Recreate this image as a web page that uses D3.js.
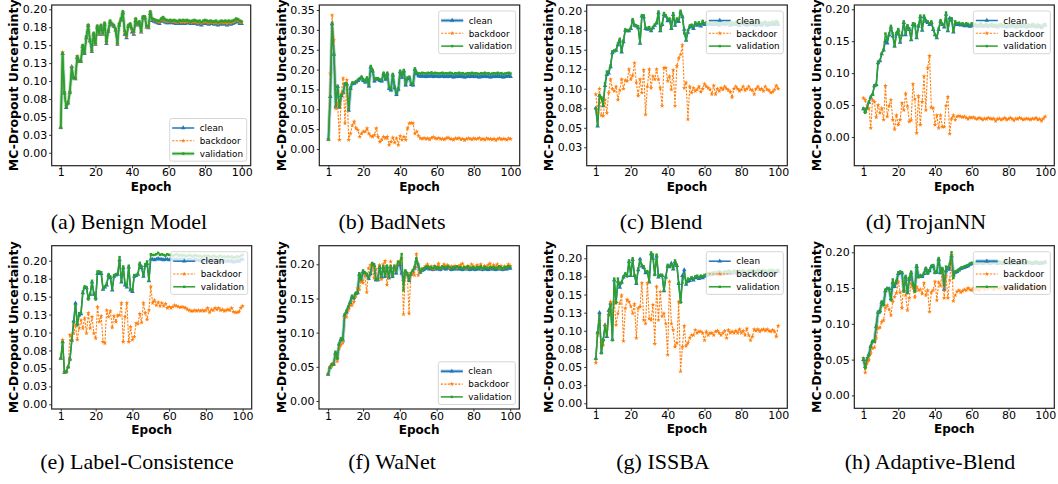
<!DOCTYPE html>
<html><head><meta charset="utf-8">
<script src="https://cdn.jsdelivr.net/npm/d3@7"></script>
<style>body{margin:0;background:#fff} svg{display:block}</style>
</head><body>
<script>
// ---------- categories / labels ----------
const epochs = d3.range(1, 101);
const seriesNames = ["clean", "backdoor", "validation"];
const xTickValues = [1, 20, 40, 60, 80, 100];
const yTicks025 = [0, 0.025, 0.05, 0.075, 0.1, 0.125, 0.15, 0.175, 0.2];
const yLabels025 = ["0.00","0.03","0.05","0.08","0.10","0.13","0.15","0.18","0.20"];
const yTicks05 = [0, 0.05, 0.1, 0.15, 0.2];
const yLabels05 = ["0.00","0.05","0.10","0.15","0.20"];
const yTicksB = [0, 0.05, 0.1, 0.15, 0.2, 0.25, 0.3, 0.35];
const yLabelsB = ["0.00","0.05","0.10","0.15","0.20","0.25","0.30","0.35"];
const yTicksC = [0.025, 0.05, 0.075, 0.1, 0.125, 0.15, 0.175, 0.2];
const yLabelsC = ["0.03","0.05","0.08","0.10","0.12","0.15","0.18","0.20"];
const captions = ["(a) Benign Model","(b) BadNets","(c) Blend","(d) TrojanNN","(e) Label-Consistence","(f) WaNet","(g) ISSBA","(h) Adaptive-Blend"];

// ---------- (a) Benign Model ----------
const aClean = [0.035,0.138,0.083,0.063,0.069,0.084,0.120,0.104,0.103,0.133,0.127,0.127,0.148,0.138,0.160,0.177,0.156,0.141,0.165,0.151,0.175,0.165,0.176,0.165,0.179,0.152,0.169,0.182,0.178,0.176,0.171,0.151,0.178,0.185,0.195,0.165,0.160,0.176,0.178,0.168,0.165,0.184,0.178,0.180,0.168,0.188,0.188,0.175,0.174,0.194,0.184,0.183,0.182,0.181,0.180,0.183,0.185,0.182,0.181,0.181,0.182,0.181,0.181,0.180,0.180,0.181,0.180,0.181,0.180,0.181,0.181,0.180,0.180,0.181,0.180,0.179,0.180,0.178,0.180,0.181,0.180,0.179,0.180,0.180,0.179,0.180,0.178,0.179,0.180,0.179,0.180,0.178,0.180,0.179,0.180,0.181,0.183,0.182,0.180,0.180];
const aBackdoor = [0.035,0.140,0.084,0.065,0.071,0.085,0.119,0.106,0.104,0.135,0.128,0.128,0.149,0.139,0.161,0.178,0.157,0.142,0.166,0.152,0.176,0.166,0.177,0.166,0.180,0.154,0.170,0.183,0.179,0.177,0.172,0.152,0.179,0.186,0.196,0.168,0.162,0.177,0.179,0.171,0.167,0.186,0.179,0.182,0.169,0.189,0.189,0.176,0.175,0.196,0.186,0.185,0.184,0.183,0.182,0.185,0.187,0.184,0.183,0.183,0.184,0.183,0.183,0.182,0.182,0.183,0.182,0.183,0.182,0.183,0.183,0.182,0.182,0.183,0.182,0.181,0.182,0.180,0.182,0.183,0.182,0.181,0.182,0.182,0.181,0.182,0.180,0.181,0.182,0.181,0.182,0.180,0.182,0.181,0.182,0.183,0.185,0.184,0.182,0.182];
const aValidation = [0.035,0.139,0.084,0.064,0.070,0.085,0.118,0.105,0.104,0.134,0.128,0.128,0.150,0.139,0.162,0.178,0.158,0.143,0.167,0.153,0.177,0.167,0.178,0.167,0.181,0.155,0.171,0.184,0.180,0.178,0.173,0.153,0.180,0.187,0.197,0.170,0.164,0.178,0.180,0.173,0.169,0.187,0.180,0.183,0.170,0.190,0.190,0.177,0.176,0.197,0.187,0.186,0.185,0.184,0.184,0.187,0.189,0.186,0.185,0.184,0.185,0.184,0.185,0.184,0.183,0.185,0.184,0.185,0.184,0.185,0.184,0.183,0.184,0.185,0.184,0.183,0.184,0.182,0.184,0.185,0.184,0.183,0.184,0.183,0.183,0.184,0.182,0.183,0.184,0.183,0.184,0.183,0.184,0.183,0.184,0.185,0.187,0.186,0.184,0.183];

// ---------- (b) BadNets ----------
const bClean = [0.024,0.132,0.315,0.238,0.106,0.157,0.105,0.134,0.142,0.163,0.163,0.097,0.152,0.165,0.165,0.168,0.172,0.176,0.180,0.172,0.168,0.178,0.158,0.206,0.196,0.171,0.176,0.176,0.172,0.171,0.189,0.175,0.189,0.152,0.148,0.186,0.154,0.137,0.150,0.194,0.180,0.196,0.161,0.177,0.179,0.162,0.161,0.200,0.189,0.184,0.183,0.184,0.183,0.182,0.184,0.183,0.185,0.182,0.184,0.183,0.182,0.183,0.184,0.182,0.183,0.182,0.184,0.183,0.181,0.183,0.182,0.184,0.182,0.183,0.181,0.182,0.183,0.182,0.184,0.182,0.183,0.182,0.181,0.183,0.182,0.184,0.182,0.183,0.181,0.182,0.183,0.182,0.184,0.182,0.183,0.181,0.182,0.183,0.184,0.182];
const bBackdoor = [0.024,0.190,0.337,0.274,0.102,0.115,0.023,0.140,0.178,0.065,0.174,0.023,0.039,0.060,0.069,0.052,0.048,0.031,0.039,0.044,0.044,0.052,0.039,0.033,0.031,0.035,0.052,0.031,0.018,0.024,0.031,0.027,0.031,0.010,0.018,0.029,0.016,0.027,0.010,0.033,0.023,0.031,0.023,0.052,0.065,0.066,0.065,0.039,0.044,0.033,0.027,0.026,0.028,0.025,0.027,0.024,0.028,0.030,0.027,0.026,0.028,0.025,0.026,0.024,0.027,0.029,0.026,0.025,0.023,0.027,0.026,0.028,0.024,0.026,0.022,0.025,0.027,0.026,0.024,0.027,0.025,0.026,0.028,0.024,0.026,0.023,0.027,0.025,0.026,0.024,0.026,0.022,0.025,0.027,0.024,0.026,0.025,0.023,0.027,0.025];
const bValidation = [0.024,0.133,0.318,0.241,0.108,0.159,0.107,0.136,0.144,0.165,0.165,0.100,0.155,0.167,0.167,0.170,0.174,0.178,0.182,0.175,0.170,0.180,0.161,0.209,0.199,0.174,0.178,0.178,0.175,0.174,0.192,0.178,0.192,0.155,0.153,0.189,0.157,0.140,0.153,0.197,0.184,0.199,0.164,0.180,0.182,0.165,0.164,0.203,0.192,0.191,0.190,0.192,0.191,0.190,0.192,0.191,0.193,0.190,0.192,0.191,0.190,0.191,0.192,0.190,0.191,0.190,0.192,0.191,0.189,0.191,0.190,0.192,0.190,0.191,0.189,0.190,0.191,0.190,0.192,0.190,0.191,0.190,0.189,0.191,0.190,0.192,0.190,0.191,0.189,0.190,0.191,0.190,0.192,0.190,0.191,0.189,0.190,0.191,0.192,0.190];

// ---------- (c) Blend ----------
const cClean = [0.075,0.052,0.091,0.088,0.078,0.104,0.118,0.120,0.128,0.146,0.148,0.149,0.156,0.162,0.147,0.160,0.175,0.174,0.174,0.177,0.188,0.181,0.180,0.178,0.158,0.193,0.192,0.177,0.176,0.177,0.174,0.178,0.181,0.184,0.197,0.174,0.182,0.195,0.193,0.187,0.188,0.177,0.195,0.181,0.188,0.186,0.198,0.192,0.176,0.162,0.172,0.179,0.180,0.177,0.183,0.181,0.183,0.180,0.184,0.182,0.183,0.182,0.183,0.182,0.182,0.183,0.182,0.181,0.183,0.183,0.182,0.183,0.183,0.181,0.182,0.182,0.183,0.182,0.181,0.183,0.183,0.182,0.181,0.182,0.183,0.182,0.182,0.181,0.183,0.182,0.181,0.183,0.183,0.181,0.182,0.182,0.183,0.182,0.184,0.182];
const cBackdoor = [0.093,0.069,0.100,0.066,0.065,0.086,0.069,0.095,0.112,0.100,0.097,0.103,0.086,0.098,0.112,0.100,0.111,0.110,0.125,0.112,0.117,0.133,0.108,0.091,0.112,0.095,0.124,0.067,0.103,0.125,0.101,0.116,0.112,0.125,0.112,0.101,0.078,0.127,0.127,0.110,0.116,0.099,0.124,0.078,0.129,0.139,0.144,0.156,0.101,0.108,0.061,0.103,0.095,0.101,0.097,0.099,0.103,0.096,0.100,0.106,0.103,0.101,0.099,0.093,0.104,0.093,0.100,0.097,0.101,0.099,0.103,0.100,0.098,0.096,0.089,0.100,0.103,0.100,0.097,0.099,0.103,0.098,0.100,0.103,0.099,0.098,0.093,0.100,0.103,0.099,0.100,0.097,0.103,0.099,0.098,0.095,0.096,0.099,0.104,0.100];
const cValidation = [0.075,0.053,0.092,0.089,0.079,0.107,0.122,0.122,0.130,0.148,0.149,0.150,0.158,0.164,0.148,0.162,0.176,0.175,0.175,0.178,0.189,0.182,0.181,0.180,0.159,0.194,0.194,0.178,0.178,0.179,0.175,0.179,0.182,0.185,0.199,0.175,0.183,0.197,0.194,0.189,0.190,0.178,0.197,0.183,0.190,0.188,0.200,0.193,0.171,0.163,0.175,0.181,0.182,0.179,0.185,0.183,0.185,0.182,0.187,0.184,0.185,0.184,0.186,0.185,0.184,0.186,0.185,0.184,0.185,0.186,0.184,0.185,0.186,0.184,0.185,0.184,0.186,0.185,0.184,0.185,0.186,0.185,0.184,0.185,0.186,0.184,0.185,0.184,0.186,0.185,0.184,0.185,0.186,0.184,0.185,0.184,0.186,0.185,0.187,0.185];

// ---------- (d) TrojanNN ----------
const dClean = [0.044,0.040,0.046,0.054,0.062,0.067,0.080,0.082,0.116,0.119,0.130,0.136,0.150,0.147,0.160,0.172,0.158,0.142,0.161,0.167,0.148,0.160,0.179,0.160,0.173,0.168,0.152,0.176,0.175,0.155,0.173,0.188,0.167,0.188,0.181,0.179,0.176,0.179,0.168,0.160,0.155,0.168,0.181,0.176,0.172,0.192,0.166,0.186,0.184,0.164,0.178,0.176,0.176,0.175,0.176,0.174,0.176,0.174,0.173,0.175,0.174,0.175,0.173,0.174,0.175,0.173,0.174,0.174,0.173,0.174,0.174,0.173,0.174,0.172,0.174,0.174,0.173,0.174,0.172,0.174,0.173,0.174,0.174,0.172,0.174,0.173,0.174,0.173,0.174,0.172,0.174,0.173,0.174,0.174,0.172,0.174,0.173,0.171,0.174,0.175];
const dBackdoor = [0.061,0.058,0.045,0.045,0.014,0.058,0.055,0.031,0.050,0.038,0.045,0.027,0.080,0.032,0.049,0.058,0.027,0.012,0.034,0.019,0.027,0.053,0.042,0.068,0.048,0.024,0.026,0.083,0.059,0.006,0.064,0.019,0.055,0.095,0.042,0.108,0.127,0.046,0.045,0.019,0.034,0.014,0.034,0.016,0.016,0.049,0.063,0.005,0.029,0.034,0.027,0.032,0.033,0.032,0.031,0.032,0.030,0.028,0.031,0.030,0.031,0.029,0.028,0.030,0.029,0.027,0.029,0.028,0.030,0.029,0.028,0.029,0.025,0.028,0.029,0.027,0.028,0.030,0.027,0.028,0.030,0.028,0.026,0.029,0.028,0.030,0.029,0.027,0.028,0.029,0.028,0.027,0.029,0.028,0.030,0.027,0.028,0.025,0.029,0.032];
const dValidation = [0.045,0.038,0.045,0.055,0.063,0.066,0.081,0.081,0.118,0.120,0.131,0.137,0.162,0.152,0.162,0.174,0.162,0.142,0.163,0.169,0.149,0.162,0.181,0.162,0.175,0.170,0.153,0.178,0.177,0.156,0.175,0.190,0.168,0.190,0.183,0.181,0.178,0.181,0.170,0.161,0.156,0.170,0.183,0.177,0.174,0.195,0.167,0.182,0.186,0.165,0.181,0.178,0.179,0.177,0.178,0.176,0.178,0.177,0.175,0.178,0.176,0.177,0.175,0.176,0.178,0.175,0.176,0.177,0.175,0.176,0.177,0.175,0.176,0.174,0.176,0.177,0.175,0.176,0.174,0.176,0.175,0.177,0.176,0.174,0.176,0.175,0.177,0.175,0.176,0.174,0.176,0.175,0.177,0.176,0.174,0.176,0.175,0.173,0.176,0.177];

// ---------- (e) Label-Consistence ----------
const eClean = [0.064,0.087,0.044,0.046,0.052,0.063,0.089,0.116,0.141,0.112,0.124,0.126,0.155,0.163,0.162,0.148,0.153,0.170,0.153,0.148,0.182,0.182,0.182,0.160,0.163,0.166,0.180,0.176,0.159,0.178,0.180,0.181,0.201,0.170,0.190,0.166,0.163,0.191,0.159,0.157,0.178,0.179,0.181,0.195,0.190,0.178,0.193,0.196,0.172,0.202,0.202,0.201,0.202,0.203,0.202,0.202,0.201,0.202,0.202,0.201,0.202,0.201,0.202,0.202,0.201,0.202,0.201,0.202,0.200,0.201,0.202,0.201,0.200,0.202,0.201,0.200,0.201,0.199,0.201,0.200,0.201,0.200,0.199,0.201,0.200,0.199,0.200,0.201,0.199,0.200,0.199,0.200,0.199,0.200,0.198,0.199,0.200,0.199,0.201,0.202];
const eBackdoor = [0.064,0.090,0.045,0.045,0.052,0.097,0.090,0.099,0.110,0.090,0.106,0.117,0.106,0.120,0.099,0.127,0.106,0.122,0.099,0.092,0.136,0.115,0.123,0.087,0.085,0.131,0.122,0.130,0.107,0.123,0.115,0.124,0.124,0.141,0.087,0.122,0.141,0.087,0.108,0.090,0.094,0.113,0.112,0.126,0.114,0.141,0.127,0.118,0.131,0.164,0.141,0.145,0.138,0.142,0.137,0.141,0.137,0.140,0.134,0.136,0.134,0.136,0.138,0.137,0.136,0.135,0.136,0.135,0.134,0.132,0.131,0.130,0.130,0.131,0.130,0.131,0.130,0.131,0.130,0.131,0.134,0.128,0.132,0.131,0.134,0.132,0.134,0.131,0.132,0.130,0.131,0.132,0.131,0.134,0.129,0.128,0.128,0.129,0.134,0.137];
const eValidation = [0.064,0.087,0.045,0.045,0.052,0.063,0.090,0.114,0.138,0.110,0.127,0.127,0.157,0.164,0.163,0.146,0.154,0.172,0.155,0.146,0.185,0.185,0.184,0.161,0.164,0.168,0.181,0.178,0.160,0.180,0.181,0.182,0.205,0.171,0.192,0.168,0.165,0.193,0.160,0.159,0.180,0.180,0.182,0.197,0.192,0.179,0.195,0.199,0.173,0.209,0.208,0.208,0.209,0.211,0.208,0.209,0.208,0.207,0.209,0.208,0.208,0.207,0.208,0.209,0.207,0.208,0.207,0.208,0.206,0.207,0.208,0.207,0.206,0.208,0.207,0.206,0.207,0.205,0.207,0.206,0.207,0.206,0.205,0.207,0.206,0.205,0.206,0.207,0.205,0.206,0.205,0.206,0.205,0.206,0.204,0.205,0.206,0.205,0.207,0.208];

// ---------- (f) WaNet ----------
const fClean = [0.039,0.049,0.053,0.054,0.070,0.063,0.083,0.090,0.089,0.125,0.130,0.137,0.144,0.152,0.151,0.157,0.158,0.185,0.176,0.189,0.187,0.184,0.179,0.186,0.200,0.198,0.177,0.177,0.195,0.181,0.195,0.182,0.196,0.180,0.195,0.182,0.196,0.187,0.200,0.199,0.187,0.178,0.189,0.185,0.176,0.185,0.189,0.194,0.205,0.197,0.188,0.191,0.192,0.194,0.195,0.193,0.194,0.192,0.195,0.193,0.194,0.192,0.195,0.194,0.193,0.195,0.194,0.192,0.194,0.193,0.195,0.193,0.194,0.192,0.194,0.193,0.195,0.192,0.193,0.194,0.192,0.194,0.193,0.195,0.192,0.194,0.193,0.192,0.194,0.193,0.194,0.192,0.193,0.195,0.193,0.192,0.194,0.193,0.195,0.194];
const fBackdoor = [0.039,0.050,0.051,0.056,0.067,0.058,0.077,0.082,0.085,0.123,0.123,0.133,0.140,0.140,0.145,0.153,0.165,0.163,0.175,0.173,0.184,0.159,0.194,0.199,0.196,0.180,0.193,0.178,0.199,0.178,0.200,0.205,0.170,0.184,0.204,0.184,0.192,0.198,0.201,0.204,0.209,0.127,0.187,0.187,0.128,0.187,0.187,0.184,0.215,0.184,0.191,0.193,0.194,0.197,0.200,0.195,0.197,0.193,0.198,0.195,0.201,0.194,0.196,0.200,0.197,0.199,0.195,0.197,0.196,0.198,0.195,0.197,0.199,0.201,0.196,0.194,0.198,0.196,0.200,0.197,0.195,0.199,0.196,0.200,0.194,0.198,0.196,0.199,0.201,0.195,0.199,0.196,0.200,0.195,0.198,0.194,0.197,0.196,0.200,0.198];
const fValidation = [0.039,0.049,0.054,0.053,0.072,0.062,0.084,0.092,0.090,0.127,0.132,0.138,0.145,0.154,0.150,0.158,0.159,0.187,0.178,0.191,0.188,0.186,0.180,0.187,0.202,0.200,0.178,0.178,0.197,0.183,0.197,0.184,0.198,0.182,0.197,0.183,0.198,0.189,0.204,0.202,0.215,0.162,0.191,0.187,0.177,0.187,0.191,0.196,0.209,0.200,0.189,0.193,0.194,0.196,0.197,0.195,0.196,0.194,0.197,0.195,0.196,0.194,0.197,0.196,0.195,0.197,0.196,0.194,0.196,0.195,0.197,0.195,0.196,0.194,0.196,0.195,0.197,0.194,0.195,0.196,0.194,0.196,0.195,0.197,0.194,0.196,0.195,0.194,0.196,0.195,0.196,0.194,0.195,0.197,0.195,0.194,0.196,0.195,0.197,0.196];

// ---------- (g) ISSBA ----------
const gClean = [0.062,0.098,0.125,0.070,0.088,0.108,0.092,0.128,0.138,0.088,0.170,0.140,0.168,0.160,0.167,0.174,0.178,0.176,0.195,0.176,0.198,0.176,0.165,0.184,0.199,0.189,0.187,0.180,0.181,0.167,0.206,0.200,0.178,0.203,0.174,0.176,0.176,0.155,0.174,0.189,0.188,0.193,0.185,0.195,0.190,0.165,0.140,0.176,0.184,0.164,0.168,0.169,0.172,0.170,0.173,0.174,0.172,0.174,0.173,0.175,0.176,0.177,0.178,0.177,0.179,0.178,0.179,0.180,0.179,0.178,0.180,0.179,0.181,0.180,0.179,0.181,0.180,0.179,0.181,0.180,0.181,0.180,0.179,0.181,0.180,0.182,0.181,0.180,0.182,0.181,0.180,0.182,0.181,0.180,0.182,0.181,0.182,0.180,0.181,0.182];
const gBackdoor = [0.056,0.094,0.113,0.083,0.080,0.107,0.101,0.122,0.140,0.122,0.140,0.108,0.124,0.138,0.149,0.086,0.131,0.143,0.140,0.134,0.124,0.137,0.090,0.131,0.133,0.166,0.115,0.110,0.166,0.117,0.115,0.136,0.082,0.161,0.115,0.154,0.120,0.124,0.110,0.067,0.168,0.110,0.101,0.078,0.083,0.140,0.044,0.078,0.107,0.079,0.083,0.090,0.094,0.094,0.101,0.097,0.099,0.099,0.097,0.087,0.099,0.094,0.097,0.097,0.094,0.099,0.100,0.097,0.094,0.097,0.100,0.090,0.101,0.097,0.099,0.097,0.100,0.097,0.102,0.097,0.100,0.094,0.103,0.094,0.087,0.092,0.102,0.100,0.102,0.099,0.101,0.102,0.100,0.102,0.100,0.099,0.101,0.099,0.092,0.107];
const gValidation = [0.061,0.097,0.122,0.069,0.086,0.106,0.093,0.122,0.136,0.087,0.172,0.138,0.172,0.163,0.166,0.175,0.179,0.175,0.197,0.177,0.200,0.177,0.166,0.186,0.197,0.191,0.189,0.182,0.182,0.168,0.208,0.205,0.177,0.205,0.175,0.177,0.177,0.156,0.175,0.191,0.189,0.191,0.186,0.197,0.191,0.166,0.139,0.166,0.179,0.166,0.172,0.171,0.174,0.172,0.175,0.176,0.174,0.176,0.175,0.177,0.178,0.179,0.180,0.179,0.181,0.180,0.181,0.182,0.181,0.180,0.182,0.181,0.183,0.182,0.181,0.183,0.182,0.181,0.183,0.182,0.183,0.182,0.181,0.183,0.182,0.184,0.183,0.182,0.184,0.183,0.182,0.184,0.183,0.182,0.184,0.183,0.184,0.182,0.183,0.184];

// ---------- (h) Adaptive-Blend ----------
const hClean = [0.050,0.040,0.050,0.057,0.068,0.075,0.076,0.096,0.116,0.118,0.130,0.127,0.146,0.149,0.149,0.135,0.158,0.152,0.158,0.170,0.172,0.171,0.147,0.165,0.144,0.162,0.171,0.155,0.147,0.180,0.166,0.167,0.166,0.170,0.177,0.171,0.174,0.180,0.181,0.172,0.172,0.190,0.171,0.176,0.148,0.174,0.178,0.176,0.195,0.168,0.172,0.173,0.175,0.177,0.178,0.179,0.180,0.181,0.183,0.184,0.184,0.185,0.184,0.186,0.185,0.184,0.185,0.186,0.185,0.184,0.185,0.186,0.185,0.184,0.186,0.185,0.184,0.185,0.186,0.185,0.184,0.185,0.186,0.185,0.184,0.185,0.186,0.185,0.184,0.185,0.186,0.185,0.184,0.185,0.186,0.185,0.184,0.185,0.185,0.186];
const hBackdoor = [0.052,0.032,0.045,0.049,0.059,0.066,0.067,0.080,0.094,0.095,0.103,0.105,0.122,0.126,0.120,0.112,0.131,0.138,0.143,0.159,0.144,0.122,0.157,0.140,0.119,0.136,0.157,0.150,0.137,0.152,0.147,0.148,0.142,0.157,0.140,0.147,0.117,0.144,0.147,0.159,0.133,0.158,0.153,0.173,0.136,0.167,0.136,0.161,0.196,0.132,0.140,0.145,0.147,0.144,0.146,0.148,0.147,0.150,0.148,0.147,0.150,0.148,0.149,0.147,0.150,0.151,0.148,0.150,0.149,0.152,0.150,0.148,0.151,0.150,0.149,0.151,0.150,0.148,0.151,0.150,0.149,0.151,0.150,0.152,0.149,0.150,0.151,0.149,0.150,0.152,0.150,0.149,0.151,0.150,0.152,0.150,0.149,0.151,0.150,0.151];
const hValidation = [0.052,0.038,0.052,0.056,0.069,0.076,0.075,0.098,0.117,0.116,0.131,0.126,0.148,0.150,0.148,0.133,0.162,0.154,0.160,0.172,0.173,0.172,0.145,0.167,0.143,0.164,0.173,0.154,0.145,0.182,0.165,0.166,0.167,0.171,0.178,0.170,0.175,0.181,0.182,0.171,0.173,0.192,0.172,0.178,0.154,0.180,0.178,0.184,0.200,0.164,0.173,0.174,0.176,0.178,0.179,0.180,0.181,0.182,0.184,0.185,0.185,0.186,0.185,0.187,0.186,0.185,0.186,0.187,0.186,0.185,0.186,0.187,0.186,0.185,0.187,0.186,0.185,0.186,0.187,0.186,0.185,0.186,0.187,0.186,0.185,0.186,0.187,0.186,0.185,0.186,0.187,0.186,0.185,0.186,0.187,0.186,0.185,0.186,0.186,0.187];

// ---------- panel configuration (built from the arrays above) ----------
const panels = [
  {cap:captions[0], s:[aClean,aBackdoor,aValidation], yDom:[-0.018,0.206], yt:yTicks025, yl:yLabels025, leg:"lr", wide:2, f:{L:51.7,R:250.7,T:5,B:165.7}, capX:129, capY:229},
  {cap:captions[1], s:[bClean,bBackdoor,bValidation], yDom:[-0.042,0.3626], yt:yTicksB, yl:yLabelsB, leg:"ur", wide:0, f:{L:319.3,R:519.7,T:5,B:165.7}, capX:392, capY:229},
  {cap:captions[2], s:[cClean,cBackdoor,cValidation], yDom:[0.0014,0.2073], yt:yTicksC, yl:yLabelsC, leg:"ur", wide:-1, f:{L:586.7,R:787.3,T:5,B:165.7}, capX:661, capY:229},
  {cap:captions[3], s:[dClean,dBackdoor,dValidation], yDom:[-0.045,0.2067], yt:yTicks05, yl:yLabels05, leg:"ur", wide:-1, f:{L:854.3,R:1054.3,T:5,B:165.7}, capX:926, capY:229},
  {cap:captions[4], s:[eClean,eBackdoor,eValidation], yDom:[-0.0065,0.2209], yt:yTicks025, yl:yLabels025, leg:"ur", wide:-1, f:{L:51.7,R:251.7,T:245.7,B:409}, capX:137, capY:469},
  {cap:captions[5], s:[fClean,fBackdoor,fValidation], yDom:[-0.0117,0.2272], yt:yTicks05, yl:yLabels05, leg:"lr", wide:0, f:{L:319,R:519.3,T:245.7,B:409}, capX:392, capY:469},
  {cap:captions[6], s:[gClean,gBackdoor,gValidation], yDom:[-0.0069,0.2174], yt:yTicks025, yl:yLabels025, leg:"ur", wide:-1, f:{L:586.7,R:787.3,T:245.7,B:408.3}, capX:663, capY:469},
  {cap:captions[7], s:[hClean,hBackdoor,hValidation], yDom:[-0.018,0.2092], yt:yTicks05, yl:yLabels05, leg:"ur", wide:0, f:{L:854.3,R:1054.3,T:245.7,B:408.3}, capX:930, capY:469}
];

const colors = ["#1f77b4", "#ff7f0e", "#2ca02c"];
const dashes = [null, "2.2,1.3", null];
const symbols = [d3.symbolTriangle, d3.symbolStar, d3.symbolSquare];
const symSizes = [9, 7, 6];
const FONT = "'DejaVu Sans', sans-serif";

const svg = d3.select("body").append("svg").attr("width", 1058).attr("height", 484);

panels.forEach(p => {
  const {L, R, T, B} = p.f;
  const g = svg.append("g");
  const x = d3.scaleLinear().domain([-3.95, 104.95]).range([L, R]);
  const y = d3.scaleLinear().domain(p.yDom).range([B, T]);

  // axes
  const xa = g.append("g").attr("transform", `translate(0,${B})`)
    .call(d3.axisBottom(x).tickValues(xTickValues).tickFormat(d => d).tickSize(2.5).tickPadding(0.5));
  const ya = g.append("g").attr("transform", `translate(${L},0)`)
    .call(d3.axisLeft(y).tickValues(p.yt).tickFormat((d, i) => p.yl[i]).tickSize(2.5).tickPadding(2));
  [xa, ya].forEach(a => {
    a.select(".domain").remove();
    a.selectAll("text").attr("font-family", FONT).attr("font-size", 11).attr("fill", "#000");
    a.selectAll("line").attr("stroke", "#000").attr("stroke-width", 0.8);
  });

  // series
  p.s.forEach((vals, si) => {
    const pts = epochs.map((e, i) => [e, vals[i]]);
    const line = d3.line().x(d => x(d[0])).y(d => y(d[1]));
    if (p.wide === si) {
      g.append("path").datum(pts).attr("d", line).attr("fill", "none")
        .attr("stroke", colors[si]).attr("stroke-width", 3.6).attr("stroke-opacity", 0.35)
        .attr("stroke-linejoin", "round");
    }
    const path = g.append("path").datum(pts).attr("d", line).attr("fill", "none")
      .attr("stroke", colors[si]).attr("stroke-width", si === 1 ? 1.1 : 1.5)
      .attr("stroke-linejoin", "round");
    if (dashes[si]) path.attr("stroke-dasharray", dashes[si]);
    g.append("g").selectAll("path").data(pts).join("path")
      .attr("transform", d => `translate(${x(d[0])},${y(d[1])})`)
      .attr("d", d3.symbol().type(symbols[si]).size(symSizes[si]))
      .attr("fill", colors[si]);
  });

  // frame
  g.append("rect").attr("x", L).attr("y", T).attr("width", R - L).attr("height", B - T)
    .attr("fill", "none").attr("stroke", "#222").attr("stroke-width", 1.2);

  // axis titles
  g.append("text").attr("x", (L + R) / 2).attr("y", B + 24.8).attr("text-anchor", "middle")
    .attr("font-family", FONT).attr("font-weight", "bold").attr("font-size", 12).text("Epoch");
  g.append("text").attr("transform", `translate(${L - 33.5},${(T + B) / 2}) rotate(-90)`)
    .attr("text-anchor", "middle").attr("font-family", FONT).attr("font-weight", "bold")
    .attr("font-size", 12.5).text("MC-Dropout Uncertainty");

  // legend
  const lw = 77, lh = 42.7;
  const lx = R - 4 - lw;
  const ly = p.leg === "lr" ? B - 4.5 - lh : T + 6;
  const lg = g.append("g").attr("transform", `translate(${lx},${ly})`);
  lg.append("rect").attr("width", lw).attr("height", lh).attr("rx", 2)
    .attr("fill", "#fff").attr("fill-opacity", 0.8).attr("stroke", "#ccc").attr("stroke-width", 0.8);
  seriesNames.forEach((nm, si) => {
    const ry = 9.5 + si * 12.8;
    if (p.wide === si) {
      lg.append("line").attr("x1", 2.5).attr("x2", 24.5).attr("y1", ry).attr("y2", ry)
        .attr("stroke", colors[si]).attr("stroke-width", 3.6).attr("stroke-opacity", 0.35);
    }
    const ln = lg.append("line").attr("x1", 2.5).attr("x2", 24.5).attr("y1", ry).attr("y2", ry)
      .attr("stroke", colors[si]).attr("stroke-width", si === 1 ? 1.1 : 1.5);
    if (dashes[si]) ln.attr("stroke-dasharray", dashes[si]);
    lg.append("path").attr("transform", `translate(13.5,${ry})`)
      .attr("d", d3.symbol().type(symbols[si]).size(symSizes[si])).attr("fill", colors[si]);
    lg.append("text").attr("x", 30).attr("y", ry + 3.2).attr("font-family", FONT)
      .attr("font-size", 8.8).attr("fill", "#000").text(nm);
  });

  // caption
  svg.append("text").attr("x", p.capX).attr("y", p.capY).attr("text-anchor", "middle")
    .attr("font-family", "'Liberation Serif', 'Times New Roman', serif").attr("font-size", 22)
    .attr("fill", "#000").text(p.cap);
});
</script>
</body></html>
